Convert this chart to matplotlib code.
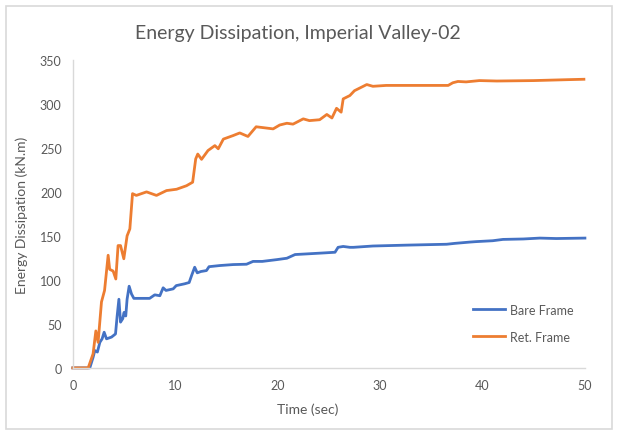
import matplotlib.pyplot as plt
from matplotlib.patches import Rectangle

# Data
time_bare = [0, 1.66, 1.98, 2.15, 2.4, 2.64, 2.86, 3.06, 3.29, 3.78, 4.17, 4.33, 4.5, 4.66,
             4.88, 5.0, 5.17, 5.3, 5.5, 5.73, 5.96, 7.5, 8.0, 8.5, 8.82, 9.1, 9.8, 10.1,
             10.9, 11.36, 11.6, 11.9, 12.15, 12.5, 13.05, 13.3, 14.35, 15.65, 16.96,
             17.6, 18.5, 19.9, 20.9, 21.7, 22.8, 24.6, 25.6, 25.9, 26.4, 27.05, 27.4,
             29.3, 32.6, 36.5, 37.3, 38.8, 39.4, 41.0, 42.0, 44.0, 45.6, 47.2, 50.0]
energy_bare = [0, 0, 12, 19.7, 18, 29, 33, 40.5, 33, 35, 38.6, 59, 78, 52,
               56, 63, 59, 78, 92.8, 84, 79, 79, 83, 82, 91, 88, 89.8, 93.5,
               95.5, 97, 105, 114.4, 108, 109.5, 110.6, 115, 116.3, 117.4, 117.8,
               121, 121, 123, 124.6, 128.8, 129.5, 130.7, 131.4, 137, 138, 137, 137,
               138.5, 139.5, 140.5, 141.5, 143, 143.5, 144.5, 146, 146.5, 147.5, 147, 147.5]

time_ret = [0, 1.5, 1.98, 2.25, 2.47, 2.8, 3.1, 3.45, 3.6, 3.94, 4.2, 4.42, 4.66, 4.98,
            5.3, 5.57, 5.83, 6.2, 7.2, 8.17, 9.15, 10.13, 11.1, 11.7, 12.0, 12.2,
            12.57, 13.2, 13.87, 14.2, 14.7, 15.65, 16.3, 17.1, 17.9, 18.6, 19.56,
            20.2, 20.9, 21.5, 22.5, 23.1, 24.1, 24.8, 25.3, 25.75, 26.2, 26.4, 27.05,
            27.5, 28.7, 29.3, 30.6, 33.9, 36.65, 37.1, 37.6, 38.4, 39.7, 41.4, 45.0,
            48.2, 49.9]
energy_ret = [0, 0, 16, 42, 29, 75, 88, 128, 112, 110, 101, 139, 139, 124,
              150, 158, 198, 196, 200, 196, 201.5, 203, 207, 211, 237.5, 243,
              237, 247, 252.6, 249, 260, 264, 267, 263, 274, 273, 271.6,
              276, 278, 277, 283, 281, 282, 288, 284, 295, 290.6, 305.7, 309.5,
              315, 322, 320, 321, 321, 321, 324, 325.5, 325, 326.5, 326, 326.5,
              327.5, 328]

blue = '#4472C4'
orange = '#ED7D31'
grey_text = '#595959'

plt.rcParams['font.family'] = ['Lato', 'DejaVu Sans']

fig = plt.figure(figsize=(6.17, 4.35), dpi=100)
ax = fig.add_axes([0.118, 0.152, 0.830, 0.708])

ax.plot(time_bare, energy_bare, color=blue, linewidth=2.0, label='Bare Frame', clip_on=False)
ax.plot(time_ret, energy_ret, color=orange, linewidth=2.0, label='Ret. Frame', clip_on=False)

ax.set_xlim(0, 50)
ax.set_ylim(0, 350)
ax.set_xticks(range(0, 51, 10))
ax.set_yticks(range(0, 351, 50))
ax.tick_params(length=0, labelsize=9, colors=grey_text, pad=8)

for side in ['top', 'right']:
    ax.spines[side].set_visible(False)
for side in ['left', 'bottom']:
    ax.spines[side].set_color('#D9D9D9')
    ax.spines[side].set_linewidth(1)

# Titles placed like the Excel chart
fig.text(0.482, 0.924, 'Energy Dissipation, Imperial Valley-02', ha='center', va='center',
         fontsize=14, color=grey_text)
fig.text(0.499, 0.057, 'Time (sec)', ha='center', va='center', fontsize=10, color=grey_text)
fig.text(0.036, 0.505, 'Energy Dissipation (kN.m)', ha='center', va='center',
         rotation=90, fontsize=10, color=grey_text)

leg = ax.legend(loc='lower right', bbox_to_anchor=(1.0, 0.045), frameon=False,
                fontsize=9, handlelength=2.6, labelspacing=1.2, handletextpad=0.4)
for t in leg.get_texts():
    t.set_color(grey_text)

# Chart area border
fig.patches.append(Rectangle((6 / 617, 5 / 435), 606 / 617, 423 / 435,
                             transform=fig.transFigure, fill=False,
                             edgecolor='#D9D9D9', linewidth=1.2))

fig.savefig('out.png', dpi=100)
